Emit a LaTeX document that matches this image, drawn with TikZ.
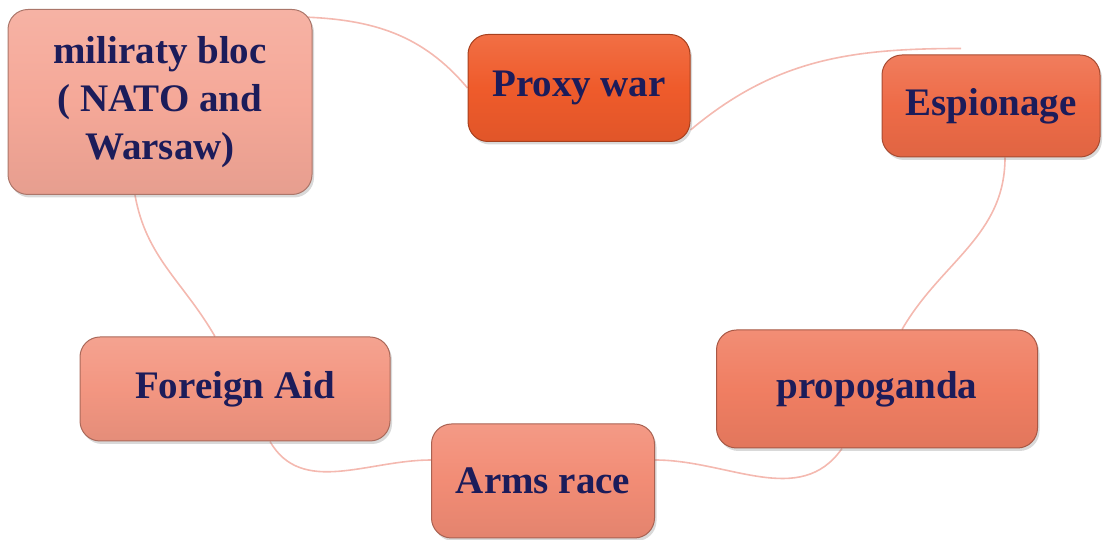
\documentclass[tikz,border=0pt]{standalone}
\usepackage{fontspec}
\setmainfont{Liberation Serif}
\usetikzlibrary{shadows,backgrounds}
\tikzset{>=latex}
\definecolor{ink}{HTML}{1C1C5A}
\definecolor{ring}{HTML}{F4B9B0}
\definecolor{cblock}{HTML}{F5A898}
\definecolor{cproxy}{HTML}{EF5B2B}
\definecolor{cspy}{HTML}{EE6B47}
\definecolor{cprop}{HTML}{F07E62}
\definecolor{carms}{HTML}{F28C75}
\definecolor{caid}{HTML}{F39681}
\tikzset{
  tile/.style={rounded corners=20pt, draw=#1!70!black, line width=1pt,
    top color=#1!88!white, bottom color=#1!94!black, middle color=#1,
    drop shadow={shadow xshift=2pt, shadow yshift=-3pt, opacity=0.3},
    text=ink, font=\fontsize{39}{48}\selectfont\bfseries, align=center,
    inner sep=0pt},
  link/.style={draw=ring, line width=1.6pt}
}

\begin{document}
\begin{tikzpicture}[x=1pt,y=1pt]
	\useasboundingbox (0,0) rectangle (1106,540);

	\node[tile=cblock, minimum width=304, minimum height=185] (bloc) at (160,438) {miliraty bloc\\( NATO and\\Warsaw)};
	\node[tile=cproxy, minimum width=222, minimum height=107] (proxy) at (579,452) {Proxy war};
	\node[tile=cspy, minimum width=218, minimum height=102] (spy) at (991,434) {Espionage};
	\node[tile=cprop, minimum width=321, minimum height=118] (prop) at (877,151) {propoganda};
	\node[tile=carms, minimum width=223, minimum height=114] (arms) at (543,59) {Arms race};
	\node[tile=caid, minimum width=310, minimum height=104] (aid) at (235,151) {Foreign Aid};

	% pierscien
	\begin{scope}[on background layer]
		\draw[link] ([xshift=-10pt,yshift=-8pt]bloc.north east) to[out=-2,in=130] (proxy.west);
		\draw[link] ([yshift=12pt]proxy.south east) to[out=40,in=180] ([xshift=-30pt,yshift=6pt]spy.north);
		\draw[link] ([xshift=14pt]spy.south) to[out=-90,in=60] ([xshift=25pt]prop.north);
		\draw[link] ([xshift=-35pt]prop.south) to[out=-125,in=0] ([yshift=21pt]arms.east);
		\draw[link] ([yshift=21pt]arms.west) to[out=180,in=-60] ([xshift=35pt]aid.south);
		\draw[link] ([xshift=-20pt]aid.north) to[out=120,in=-80] ([xshift=-25pt]bloc.south);
	\end{scope}
\end{tikzpicture}
\end{document}
